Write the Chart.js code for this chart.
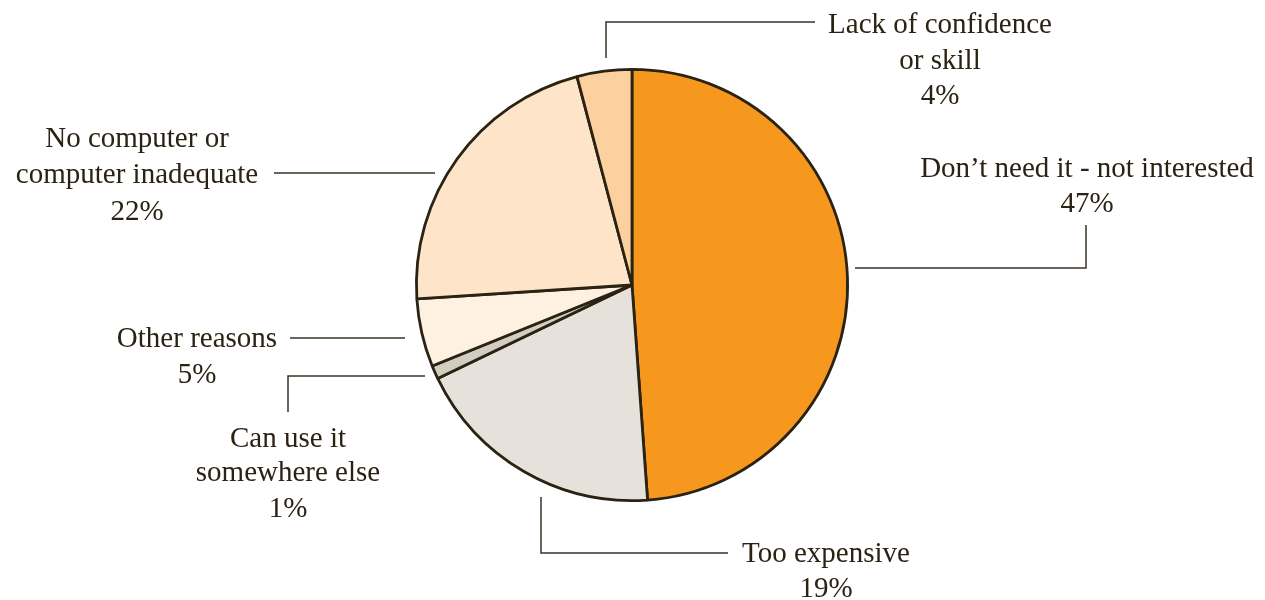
<!DOCTYPE html>
<html>
<head>
<meta charset="utf-8">
<script src="https://cdn.jsdelivr.net/npm/chart.js@4"></script>
<style>
  html, body { margin: 0; padding: 0; background: #fff; }
  #wrap { width: 1265px; height: 600px; position: relative; }
</style>
</head>
<body>
<div id="wrap"><canvas id="myChart"></canvas></div>
<script>
// categories, in drawing order (clockwise from 12 o'clock)
const reasons = [
    ['Don\u2019t need it - not interested'],
    ['Too expensive'],
    ['Can use it', 'somewhere else'],
    ['Other reasons'],
    ['No computer or', 'computer inadequate'],
    ['Lack of confidence', 'or skill']
]
// printed percentages
const pctLabels = ['47%', '19%', '1%', '5%', '22%', '4%']
// slice shares as measured from the angles in the picture
const shares = [48.8, 19, 1, 5.1, 21.9, 4.1]
const sliceColors = ['#F7981E', '#E6E2DB', '#D3CCC1', '#FEF1E2', '#FEE4C8', '#FDD19F']

// callout placement, relative to the pie centre: leader path + text centre / line y's
const callouts = [
    { path: [[223, -17], [454, -17], [454, -60]], x: 455, ys: [-117, -82] },
    { path: [[-91, 212], [-91, 268], [96, 268]], x: 194, ys: [268, 303] },
    { path: [[-207, 91], [-344, 91], [-344, 127]], x: -344, ys: [153, 187, 223] },
    { path: [[-342, 53], [-227, 53]], x: -435, ys: [53, 89] },
    { path: [[-358, -112], [-197, -112]], x: -495, ys: [-147, -111, -74] },
    { path: [[-26, -227], [-26, -263], [183, -263]], x: 308, ys: [-261, -225, -190] }
]

const calloutPlugin = {
    id: 'callouts',
    afterDatasetsDraw(chart) {
        const ctx = chart.ctx
        const arc = chart.getDatasetMeta(0).data[0]
        const cx = arc.x, cy = arc.y
        ctx.save()
        ctx.strokeStyle = '#3A3224'
        ctx.lineWidth = 1.5
        ctx.fillStyle = '#2A2212'
        ctx.font = '29px "Liberation Serif", "Times New Roman", serif'
        ctx.textAlign = 'center'
        ctx.textBaseline = 'middle'
        callouts.forEach((c, i) => {
            ctx.beginPath()
            c.path.forEach((p, j) => {
                if (j === 0) ctx.moveTo(cx + p[0], cy + p[1])
                else ctx.lineTo(cx + p[0], cy + p[1])
            })
            ctx.stroke()
            const lines = reasons[i].concat([pctLabels[i]])
            lines.forEach((t, k) => {
                ctx.fillText(t, cx + c.x, cy + c.ys[k] + 1)
            })
        })
        ctx.restore()
    }
}

new Chart(document.getElementById('myChart'), {
    type: 'pie',
    data: {
        labels: reasons.map(r => r.join(' ')),
        datasets: [{
            data: shares,
            backgroundColor: sliceColors,
            borderColor: '#2A2212',
            borderWidth: 2.8
        }]
    },
    options: {
        responsive: true,
        maintainAspectRatio: false,
        animation: false,
        layout: { padding: { top: 68, bottom: 98, left: 0, right: 1 } },
        plugins: {
            legend: { display: false },
            tooltip: { enabled: false }
        }
    },
    plugins: [calloutPlugin]
})
</script>
</body>
</html>
